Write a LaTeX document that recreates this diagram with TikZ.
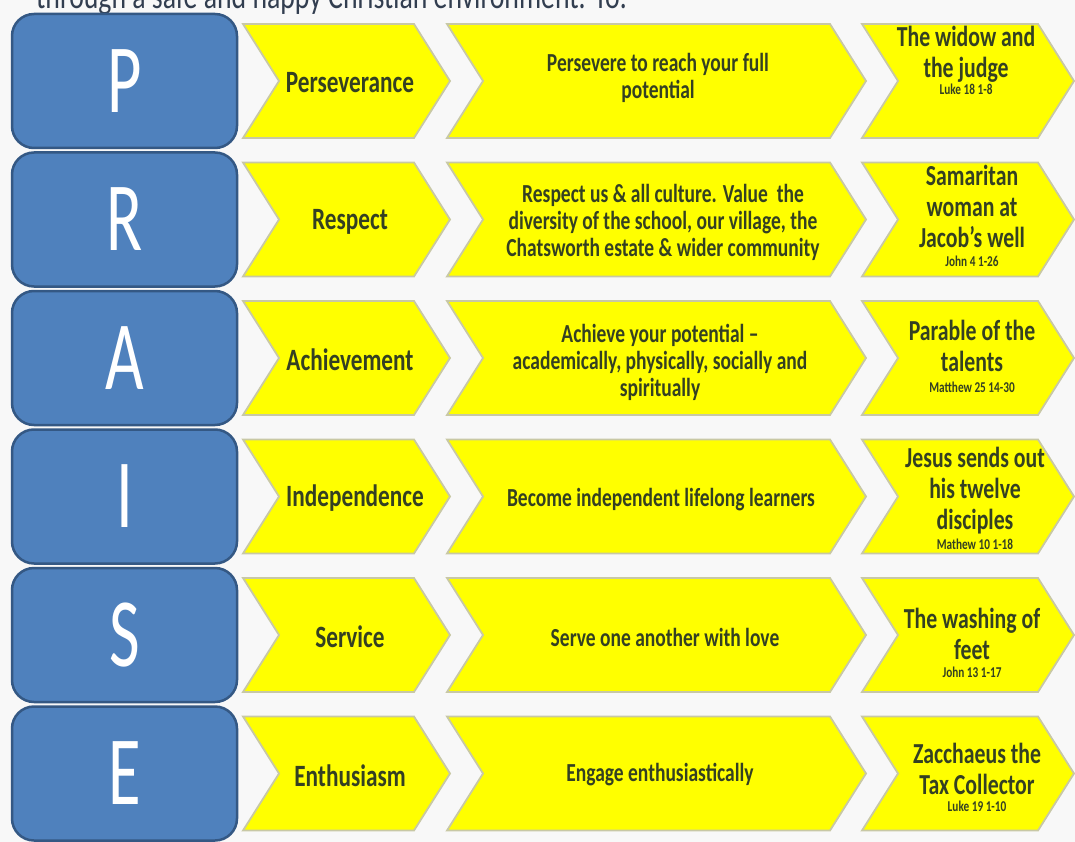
\documentclass[tikz,border=0pt]{standalone}
\usepackage{fontspec}
\setmainfont{Carlito}
\newfontfamily\cf[FakeStretch=0.75]{Carlito}
\newfontfamily\cl[FakeStretch=0.68]{Carlito}
\definecolor{boxfill}{RGB}{79,129,189}
\definecolor{boxline}{RGB}{52,88,132}
\definecolor{chevfill}{RGB}{255,255,0}
\definecolor{chevline}{RGB}{200,200,165}
\definecolor{txt}{RGB}{52,64,34}
\definecolor{toptxt}{RGB}{50,62,80}
\definecolor{bg}{RGB}{248,248,248}
\newcommand\mychev[3]{\path[chevshape] (#1,#3-57) -- (#2-36,#3-57) -- (#2,#3) -- (#2-36,#3+57) -- (#1,#3+57) -- (#1+36,#3) -- cycle;}
\begin{document}
\begin{tikzpicture}[x=1pt,y=-1pt,
  letterbox/.style={draw=boxline, line width=2.5pt, fill=boxfill, rounded corners=22pt,
    minimum width=225pt, minimum height=134pt, text=white, inner sep=0pt,
    font=\cl\fontsize{98}{98}\selectfont},
  chevshape/.style={draw=chevline, line width=1.8pt, fill=chevfill},
  lbl/.style={text=txt, align=center, inner sep=0pt, font=\cf\bfseries\fontsize{31}{33}\selectfont},
  desc/.style={text=txt, align=center, inner sep=0pt, font=\cf\bfseries\fontsize{26}{27}\selectfont},
  story/.style={text=txt, align=center, inner sep=0pt, font=\cf\bfseries\fontsize{29}{31}\selectfont},
]
\path[use as bounding box] (0,0) rectangle (1075,842);
\fill[bg] (0,0) rectangle (1075,842);
\clip (0,0) rectangle (1075,842);

\node[anchor=base west, text=toptxt, inner sep=0pt, font=\cf\fontsize{37}{39}\selectfont] (head) at (36,9)
  {through a safe and happy Christian environment. To:};

% letter boxes
\node[letterbox] (P) at (124.5,81) {P};
\node[letterbox] (R) at (124.5,219.5) {R};
\node[letterbox] (A) at (124.5,358) {A};
\node[letterbox] (I) at (124.5,496.5) {I};
\node[letterbox] (S) at (124.5,635) {S};
\node[letterbox] (E) at (124.5,773.5) {E};

% chevrons
\foreach \yc in {81,219.5,358,496.5,635,773.5}{
  \mychev{243}{450}{\yc}
  \mychev{447}{866}{\yc}
  \mychev{862}{1074}{\yc}
}

% column 1
\node[lbl] (v1) at (350,83) {Perseverance};
\node[lbl] (v2) at (350,221.5) {Respect};
\node[lbl] (v3) at (350,360) {Achievement};
\node[lbl] (v4) at (355,498.5) {Independence};
\node[lbl] (v5) at (350,637) {Service};
\node[lbl] (v6) at (350,775.5) {Enthusiasm};

% column 2
\node[desc] (d1) at (658,78) {Persevere to reach your full\\potential};
\node[desc] (d2) at (663,222) {Respect us \& all culture. Value\ \ the\\diversity of the school, our village, the\\Chatsworth estate \& wider community};
\node[desc] (d3) at (660,362) {Achieve your potential –\\academically, physically, socially and\\spiritually};
\node[desc] (d4) at (661,500) {Become independent lifelong learners};
\node[desc] (d5) at (665,637) {Serve one another with love};
\node[desc] (d6) at (660,775) {Engage enthusiastically};

% column 3
\node[story] (s1) at (966,60) {The widow and\\the judge\\[-14pt]{\cf\bfseries\fontsize{15}{16}\selectfont Luke 18 1-8}};
\node[story] (s2) at (972,216) {Samaritan\\woman at\\Jacob’s well\\[-12pt]{\cf\bfseries\fontsize{15}{16}\selectfont John 4 1-26}};
\node[story] (s3) at (972,356) {Parable of the\\talents\\[-10pt]{\cf\bfseries\fontsize{15}{16}\selectfont Matthew 25 14-30}};
\node[story] (s4) at (975,498) {Jesus sends out\\his twelve\\disciples\\[-11pt]{\cf\bfseries\fontsize{15}{16}\selectfont Mathew 10 1-18}};
\node[story] (s5) at (972,643) {The washing of\\feet\\[-13pt]{\cf\bfseries\fontsize{15}{16}\selectfont John 13 1-17}};
\node[story] (s6) at (977,777) {Zacchaeus the\\Tax Collector\\[-14pt]{\cf\bfseries\fontsize{15}{16}\selectfont Luke 19 1-10}};
\end{tikzpicture}
\end{document}
